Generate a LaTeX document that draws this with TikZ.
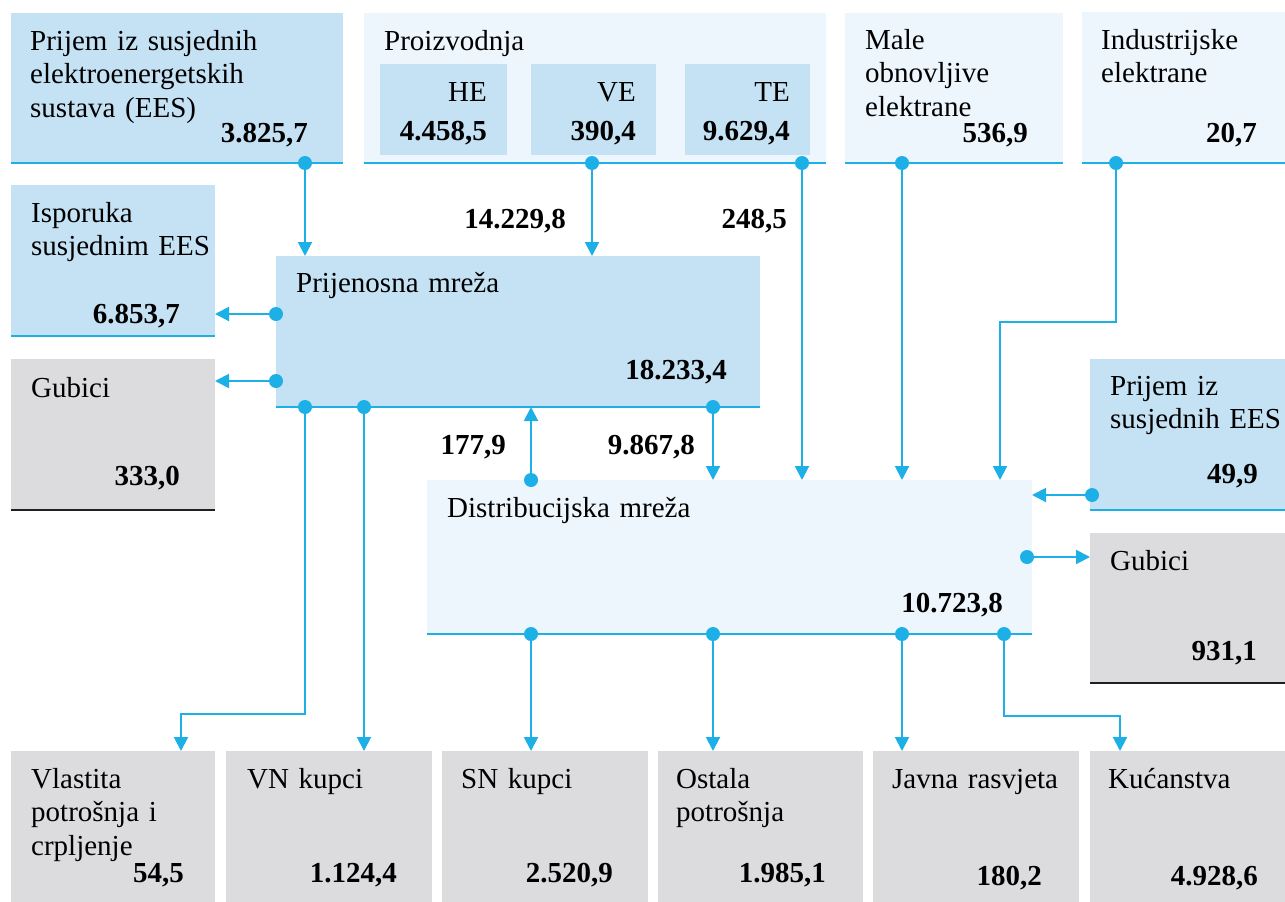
\documentclass[tikz,border=0pt]{standalone}
\usepackage{fontspec}
\setmainfont{Liberation Serif}
\usetikzlibrary{arrows.meta}
\definecolor{lb}{HTML}{C5E2F5}
\definecolor{vlb}{HTML}{EEF6FD}
\definecolor{gr}{HTML}{DCDCDF}
\definecolor{ln}{HTML}{1DB0E6}
\definecolor{dk}{HTML}{231F20}
\begin{document}
\begin{tikzpicture}[x=1pt,y=-1pt,
  bx/.style={anchor=north west, inner sep=0pt, outer sep=0pt},
  bw/.style={minimum width=#1},
  bh/.style={minimum height=#1},
  lbox/.style={bx, fill=lb},
  vbox/.style={bx, fill=vlb},
  gbox/.style={bx, fill=gr},
  txt/.style={anchor=base west, inner sep=0pt, align=left, text width=300pt, font=\fontsize{29}{33.5}\selectfont},
  rt/.style={anchor=base east, inner sep=0pt, font=\fontsize{29}{33.5}\selectfont},
  val/.style={anchor=base east, inner sep=0pt, font=\fontsize{29}{33.5}\selectfont\bfseries},
  conn/.style={draw=ln, line width=2pt, -{Triangle[width=14pt,length=14pt]}},
  bl/.style={draw=ln, line width=2.5pt},
  kl/.style={draw=dk, line width=2.5pt},
  dot/.style={fill=ln}
]
\useasboundingbox (0,0) rectangle (1285,902);
% boxes
\node[lbox, bw=332pt, bh=150pt] (b1) at (11,13) {};
\node[vbox, bw=462pt, bh=150pt] (pr) at (364,13) {};
\node[lbox, bw=127pt, bh=91pt] (he) at (380,64) {};
\node[lbox, bw=125pt, bh=91pt] (ve) at (531,64) {};
\node[lbox, bw=125pt, bh=91pt] (te) at (685,64) {};
\node[vbox, bw=218pt, bh=150pt] (ma) at (845,13) {};
\node[vbox, bw=203pt, bh=151pt] (in) at (1082,12) {};
\node[lbox, bw=204pt, bh=151pt] (isp) at (11,185) {};
\node[gbox, bw=204pt, bh=151pt] (gub1) at (11,359) {};
\node[lbox, bw=484pt, bh=151pt] (pm) at (276,256) {};
\node[vbox, bw=605pt, bh=154pt] (dm) at (427,480) {};
\node[lbox, bw=195pt, bh=151pt] (pri) at (1090,359) {};
\node[gbox, bw=195pt, bh=150pt] (gub2) at (1090,533) {};
\node[gbox, bw=204pt, bh=151pt] (vl) at (11,751) {};
\node[gbox, bw=206pt, bh=151pt] (vn) at (226,751) {};
\node[gbox, bw=206pt, bh=151pt] (sn) at (442,751) {};
\node[gbox, bw=205pt, bh=151pt] (os) at (658,751) {};
\node[gbox, bw=206pt, bh=151pt] (jr) at (873,751) {};
\node[gbox, bw=195pt, bh=151pt] (ku) at (1090,751) {};
% bottom lines
\foreach \n in {b1,pr,ma,in,isp,pm,dm,pri}{\draw[bl] (\n.south west) -- (\n.south east);}
\foreach \n in {gub1,gub2}{\draw[kl] (\n.south west) -- (\n.south east);}
% dot coordinates
\coordinate (dB1) at (305,163);
\coordinate (dVE) at (592,163);
\coordinate (dTE) at (802,163);
\coordinate (dMa) at (902,163);
\coordinate (dIn) at (1116,163);
\coordinate (kIn) at (1000,322);
\coordinate (dP1) at (276,314);
\coordinate (dP2) at (276,381);
\coordinate (dP3) at (305,407);
\coordinate (kVl) at (181,714);
\coordinate (dP4) at (364,407);
\coordinate (dP5) at (713,407);
\coordinate (dD0) at (531,480);
\coordinate (dPr) at (1092,495);
\coordinate (dD1) at (1027,557);
\coordinate (dD2) at (531,634);
\coordinate (dD3) at (713,634);
\coordinate (dD4) at (902,634);
\coordinate (dD5) at (1004,634);
\coordinate (kKu) at (1120,716);
% connectors
\draw[conn] (dB1) -- (dB1 |- pm.north);
\draw[conn] (dVE) -- (dVE |- pm.north);
\draw[conn] (dTE) -- (dTE |- dm.north);
\draw[conn] (dMa) -- (dMa |- dm.north);
\draw[conn] (dIn) |- (kIn) -- (kIn |- dm.north);
\draw[conn] (dP1) -- (dP1 -| isp.east);
\draw[conn] (dP2) -- (dP2 -| gub1.east);
\draw[conn] (dP3) |- (kVl) -- (kVl |- vl.north);
\draw[conn] (dP4) -- (dP4 |- vn.north);
\draw[conn] (dD0) -- (dD0 |- pm.south);
\draw[conn] (dP5) -- (dP5 |- dm.north);
\draw[conn] (dPr) -- (dPr -| dm.east);
\draw[conn] (dD1) -- (dD1 -| gub2.west);
\draw[conn] (dD2) -- (dD2 |- sn.north);
\draw[conn] (dD3) -- (dD3 |- os.north);
\draw[conn] (dD4) -- (dD4 |- jr.north);
\draw[conn] (dD5) |- (kKu) -- (kKu |- ku.north);
% dots
\foreach \c in {dB1,dVE,dTE,dMa,dIn,dP1,dP2,dP3,dP4,dP5,dD0,dPr,dD1,dD2,dD3,dD4,dD5}{\fill[dot] (\c) circle[radius=7pt];}
% texts
\node[txt] (tb1) at (30,50) {Prijem iz susjednih\\elektroenergetskih\\sustava (EES)};
\node[val] (vb1) at (308,142) {3.825,7};
\node[txt] (tpr) at (384,50) {Proizvodnja};
\node[rt] (the) at (487,101) {HE};
\node[val] (vhe) at (487,140) {4.458,5};
\node[rt] (tve) at (636,101) {VE};
\node[val] (vve) at (636,140) {390,4};
\node[rt] (tte) at (790,101) {TE};
\node[val] (vte) at (790,140) {9.629,4};
\node[txt] (tma) at (865,49) {Male\\obnovljive\\elektrane};
\node[val] (vma) at (1028,142) {536,9};
\node[txt] (tin) at (1101,49) {Industrijske\\elektrane};
\node[val] (vin) at (1257,142) {20,7};
\node[txt] (tisp) at (31,222) {Isporuka\\susjednim EES};
\node[val] (visp) at (180,323) {6.853,7};
\node[txt] (tg1) at (31,397) {Gubici};
\node[val] (vg1) at (180,485) {333,0};
\node[txt] (tpm) at (296,292) {Prijenosna mreža};
\node[val] (vpm) at (727,379) {18.233,4};
\node[val] (l1) at (566,228) {14.229,8};
\node[val] (l2) at (787,228) {248,5};
\node[val] (l3) at (506,454) {177,9};
\node[val] (l4) at (695,454) {9.867,8};
\node[txt] (tdm) at (447,517) {Distribucijska mreža};
\node[val] (vdm) at (1003,612) {10.723,8};
\node[txt] (tpri) at (1110,395) {Prijem iz\\susjednih EES};
\node[val] (vpri) at (1258,483) {49,9};
\node[txt] (tg2) at (1110,570) {Gubici};
\node[val] (vg2) at (1257,660) {931,1};
\node[txt] (tvl) at (31,788) {Vlastita\\potrošnja i\\crpljenje};
\node[val] (vvl) at (184,882) {54,5};
\node[txt] (tvn) at (247,788) {VN kupci};
\node[val] (vvn) at (397,882) {1.124,4};
\node[txt] (tsn) at (461,788) {SN kupci};
\node[val] (vsn) at (613,882) {2.520,9};
\node[txt] (tos) at (676,788) {Ostala\\potrošnja};
\node[val] (vos) at (826,882) {1.985,1};
\node[txt] (tjr) at (892,788) {Javna rasvjeta};
\node[val] (vjr) at (1042,885) {180,2};
\node[txt] (tku) at (1108,788) {Kućanstva};
\node[val] (vku) at (1258,885) {4.928,6};
\end{tikzpicture}
\end{document}
